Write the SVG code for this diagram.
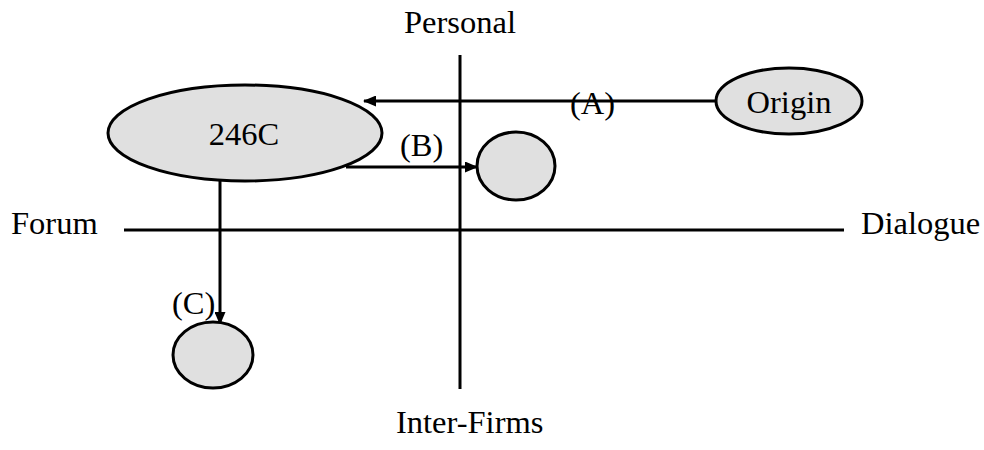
<svg xmlns="http://www.w3.org/2000/svg" width="984" height="450" viewBox="0 0 984 450">
<defs>
<style>
text{font-family:"Liberation Serif","Times New Roman",serif;font-size:32.5px;fill:#000}
.node{fill:#e0e0e0;stroke:#000;stroke-width:3}
.axis{stroke:#000;stroke-width:3;fill:none}
.conn{stroke:#000;stroke-width:3;fill:none}
</style>
<marker id="ah" markerWidth="13" markerHeight="11" refX="12" refY="5.5" orient="auto" markerUnits="userSpaceOnUse">
<path d="M0,0 L13,5.5 L0,11 Z" fill="#000"/>
</marker>
</defs>
<rect width="984" height="450" fill="#fff"/>
<g id="axes">
<line class="axis" x1="460" y1="55" x2="460" y2="389"/>
<line class="axis" x1="124" y1="230" x2="844" y2="230"/>
<text x="404" y="33">Personal</text>
<text x="11" y="234">Forum</text>
<text x="861" y="234">Dialogue</text>
<text x="396" y="433">Inter-Firms</text>
</g>
<g id="connectors">
<line class="conn" x1="715" y1="101" x2="364" y2="101" marker-end="url(#ah)"/>
<text x="570" y="114">(A)</text>
<line class="conn" x1="346" y1="167" x2="477" y2="167" marker-end="url(#ah)"/>
<text x="400" y="156">(B)</text>
<line class="conn" x1="220" y1="181" x2="220" y2="324" marker-end="url(#ah)"/>
<text x="172" y="314">(C)</text>
</g>
<g id="node-246c">
<ellipse class="node" cx="245" cy="133" rx="137" ry="48"/>
<text x="244" y="145" text-anchor="middle">246C</text>
</g>
<g id="node-origin">
<ellipse class="node" cx="789" cy="101" rx="73" ry="33"/>
<text x="789" y="113" text-anchor="middle">Origin</text>
</g>
<g id="node-b">
<ellipse class="node" cx="516" cy="166" rx="39" ry="34"/>
</g>
<g id="node-c">
<ellipse class="node" cx="213" cy="355" rx="40" ry="33"/>
</g>
</svg>
